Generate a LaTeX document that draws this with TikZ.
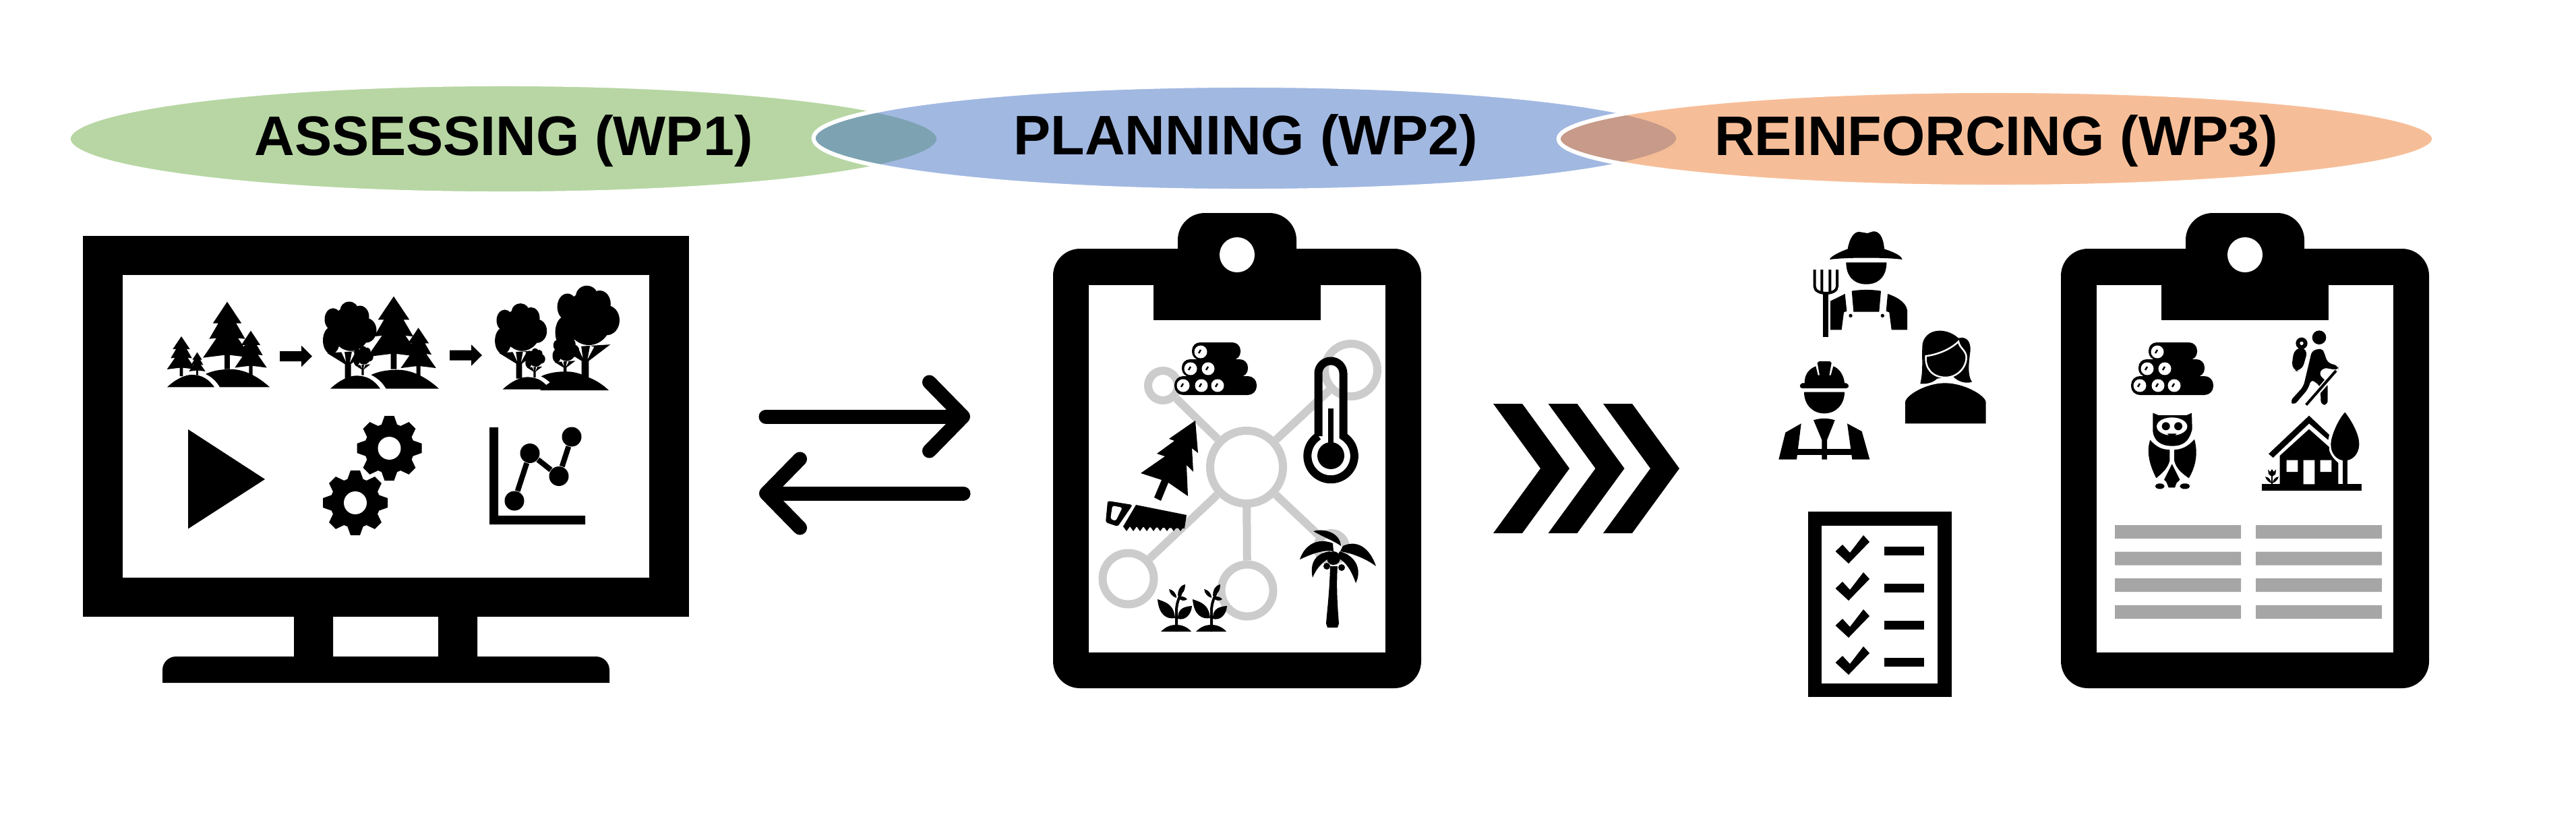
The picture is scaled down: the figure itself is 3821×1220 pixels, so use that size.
\documentclass[tikz,border=0pt]{standalone}
\usepackage{fontspec}
\setmainfont{Liberation Sans}
\usetikzlibrary{arrows.meta,shapes.geometric}
\definecolor{wpgreen}{HTML}{70AD47}
\definecolor{wpblue}{HTML}{4472C4}
\definecolor{wporange}{HTML}{ED7D31}
\definecolor{netgray}{HTML}{CCCCCC}
\definecolor{linegray}{HTML}{A6A6A6}
\begin{document}
\begin{tikzpicture}[x=.01cm,y=-.01cm,wp/.style={ellipse,draw=white,line width=.6mm,fill opacity=.5,text opacity=1,inner sep=0pt,text height=6.55mm,font=\fontsize{23.5pt}{28pt}\selectfont\bfseries},hub/.style={circle,draw=netgray,line width=1.2mm,inner sep=0pt,minimum size=#1},spoke/.style={draw=netgray,line width=1.2mm},dot/.style={circle,fill=black,inner sep=0pt,minimum size=2.9mm},plotline/.style={line width=.8mm},exchange/.style={line width=2.1mm,line cap=round,-{Straight Barb[round,length=5mm,width=10.2mm]}},
conifer/.pic={\fill (0,-100) -- (-16,-68) -- (-10,-68) -- (-20,-45) -- (-12,-46) -- (-27,-17) -- (-3,-21) -- (-3,0) -- (3,0) -- (3,-21) -- (27,-17) -- (12,-46) -- (20,-45) -- (10,-68) -- (16,-68) -- cycle;},
broadleaf/.pic={\fill (-22,-120) ellipse [x radius=12.5,y radius=22] (2,-138) ellipse [x radius=13.5,y radius=17] (18,-125) ellipse [x radius=13.5,y radius=22] (-24.5,-78) ellipse [x radius=12.5,y radius=27] (27,-98) ellipse [x radius=15.5,y radius=24.5] (4.5,-102) ellipse [x radius=29,y radius=45];\fill (-4.5,0) -- (-4.5,-31) -- (-31,-53) -- (31,-58) -- (4.5,-31) -- (4.5,0) -- cycle;\fill[white] (-10,-56) -- (-5,-56) -- (-3,-36) -- cycle (6,-56) -- (11,-54) -- (3,-34) -- cycle;},
hills/.pic={\fill (0,0) .. controls (13,-16.5) and (27,-24.5) .. (36,-24.5) .. controls (53,-24.5) and (62,-14.5) .. (70,0) -- cycle;\fill (57,-26) .. controls (67,-32.5) and (80,-35.5) .. (94,-35.5) .. controls (116,-35.5) and (136,-19.5) .. (152,0) -- (78,0) .. controls (73.5,-10.5) and (67,-19.5) .. (57,-26) -- cycle;},
blockarrow/.pic={\fill (0,-10) -- (32,-10) -- (32,-21) -- (48,0) -- (32,21) -- (32,10) -- (0,10) -- cycle;},
gear/.pic={\fill (0,0) circle [radius=37];\foreach \a in {0,45,...,315}{\fill[rotate=\a] (12,-34) -- (7,-48) -- (-7,-48) -- (-12,-34) -- cycle;}\fill[white] (0,0) circle [radius=17];},
clipboard/.pic={\fill[rounded corners=4mm] (-273,-9) rectangle (273,643);\fill[white] (-220,45) rectangle (220,590);\fill[rounded corners=4mm] (-88,40) -- (-88,-62) -- (88,-62) -- (88,40) -- cycle;\fill (-124,40) rectangle (124,97);\fill[white] (0,0) circle [radius=26];},
logpile/.pic={\fill[rounded corners=1.3mm] (-13,-14) rectangle (109,14);\fill[rounded corners=1.2mm] (-2,-39) rectangle (96,-13);\fill[rounded corners=1.2mm] (13,-64) rectangle (85,-38);\foreach \lx/\ly in {0/0,27/0,51/0,11/-25,37/-25,26/-50}{\fill[white] (\lx,\ly) circle [radius=9.5];\draw[line width=.25mm] (\lx-3,\ly+2) -- (\lx,\ly-3);}},
seedling/.pic={\fill (-23,0) .. controls (-15,-8) and (-8,-10) .. (0,-10) .. controls (8,-10) and (16,-7) .. (22,0) -- cycle;\draw[line width=.4mm] (0,0) -- (0,-30) .. controls (0,-45) and (5,-50) .. (8,-62);\fill (-28,-48) .. controls (-18,-44) and (-4,-42) .. (-2,-20) .. controls (-14,-18) and (-26,-24) .. cycle;\fill (23,-38) .. controls (6,-37) and (2,-30) .. (2,-19) .. controls (12,-16) and (22,-24) .. cycle;\fill (13,-70) .. controls (4,-68) and (2,-60) .. (2,-53) .. controls (10,-55) and (13,-62) .. cycle;\fill (-11,-63) .. controls (-6,-62) and (0,-58) .. (0,-50) .. controls (-6,-52) and (-10,-56) .. cycle;\fill (16,-48) .. controls (10,-54) and (6,-52) .. (2,-51) .. controls (6,-45) and (12,-45) .. cycle;}]
\useasboundingbox (0,0) rectangle (3821,1220);
\node[wp,fill=wpgreen,minimum width=12.9cm,minimum height=1.62cm] (assessing) at (747,206) {ASSESSING (WP1)};
\node[wp,fill=wpblue,minimum width=12.82cm,minimum height=1.56cm] (planning) at (1848,205) {PLANNING (WP2)};
\node[wp,fill=wporange,minimum width=12.98cm,minimum height=1.42cm] (reinforcing) at (2961,206) {REINFORCING (WP3)};
\fill (123,350) rectangle (1022,915);
\fill[white] (182,408) rectangle (963,857);
\fill (436,915) rectangle (494,974) (650,915) rectangle (708,974);
\fill (241,1013) [rounded corners=2mm] -- (241,974) -- (904,974) [sharp corners] -- (904,1013) -- cycle;
\pic[yscale=.747] at (248,574.3) {hills};
\pic[xscale=.79,yscale=.59] at (269,558) {conifer};
\pic[xscale=.45,yscale=.34] at (292.5,556.7) {conifer};
\pic[xscale=1.33] at (337,547.7) {conifer};
\pic[xscale=.88,yscale=.66] at (372,556.7) {conifer};
\pic[yscale=.75] at (415,528.5) {blockarrow};
\pic[xscale=1.06,yscale=.79] at (490,576.7) {hills};
\pic[yscale=.747] at (516,563.3) {broadleaf};
\pic[xscale=.37,yscale=.28] at (538,556.7) {broadleaf};
\pic[xscale=1.45,yscale=1.08] at (584,547.7) {conifer};
\pic[xscale=.97,yscale=.72] at (620.6,558.3) {conifer};
\pic[yscale=.75] at (667,527) {blockarrow};
\pic[yscale=.747] at (745.6,577.7) {hills};
\fill (801,579) .. controls (815,565) and (835,556) .. (852,556) .. controls (870,556) and (888,565) .. (903,579) -- cycle;
\pic[xscale=.97,yscale=.72] at (770,561.7) {broadleaf};
\pic[xscale=1.2,yscale=.9] at (868,563.3) {broadleaf};
\pic[xscale=.37,yscale=.28] at (793,560) {broadleaf};
\pic[xscale=.5,yscale=.37] at (838,556.7) {broadleaf};
\fill (279,637) -- (393,711) -- (279,784.5) -- cycle;
\pic at (577.5,665) {gear};
\pic at (527,746) {gear};
\fill (726,634) -- (739,634) -- (739,765) -- (868,765) -- (868,778) -- (726,778) -- cycle;
\node[dot] (ptA) at (763,743) {};
\node[dot] (ptB) at (786,672.5) {};
\node[dot] (ptC) at (829,706.5) {};
\node[dot] (ptD) at (848,648) {};
\draw[plotline] (ptA) -- (ptB);\draw[plotline] (ptB) -- (ptC);\draw[plotline] (ptC) -- (ptD);
\coordinate (swapAstart) at (1136,618);\coordinate (swapAend) at (1439,618);
\coordinate (swapBstart) at (1429,732);\coordinate (swapBend) at (1126,732);
\draw[exchange] (swapAstart) -- (swapAend);
\draw[exchange] (swapBstart) -- (swapBend);
\pic at (1835,378) {clipboard};
\node[hub=10.8mm] (hub) at (1849,693) {};
\node[hub=4.4mm] (ringNW) at (1725,572) {};
\node[hub=7.8mm] (ringNE) at (2004,549) {};
\node[hub=7.6mm] (ringSW) at (1673.5,858.5) {};
\node[hub=7.7mm] (ringS) at (1850,876) {};
\node[hub=4.2mm] (ringSE) at (1975,812) {};
\draw[spoke] (hub) -- (ringNW);\draw[spoke] (hub) -- (ringNE);\draw[spoke] (hub) -- (ringSW);\draw[spoke] (hub) -- (ringS);\draw[spoke] (hub) -- (ringSE);
\pic at (1755,572) {logpile};
\draw[line width=1.2mm] (1955.5,647) -- (1955.5,554) arc [start angle=180,end angle=360,radius=18.5] -- (1992.5,647) arc [start angle=-58,end angle=238,radius=34.75];
\fill (1974,676) circle [radius=20];\fill (1970,606) rectangle (1978,670);
\fill (1773,624) -- (1734,651) -- (1742,654) -- (1716,673) -- (1728,677) -- (1692,702) -- (1723,712) -- (1712,738) -- (1722,743) -- (1733,716) -- (1762,736) -- (1760,690) -- (1770,700) -- (1768,665) -- (1777,672) -- cycle;
\fill[even odd rule,rounded corners=.3mm] (1643,743) -- (1680,749) -- (1658,781) -- (1640,775) -- cycle (1650,750) -- (1665,753) -- (1655,773) -- (1647,770) -- cycle;
\fill (1685,749) -- (1760,764) -- (1757,784) -- (1666,781) -- cycle;
\foreach \i in {0,1,...,8}{\fill (1666+10*\i,781) -- (1676+10*\i,781) -- (1671+10*\i,788) -- cycle;}
\pic at (1745,937) {seedling};
\pic at (1797,937) {seedling};
\fill (1948,788) .. controls (1967,783) and (1988,792) .. (1989,810) .. controls (1980,803) and (1963,797) .. cycle;
\fill (1928,830) .. controls (1935,808) and (1955,797) .. (1977,806) -- (1978,818) .. controls (1963,815) and (1945,822) .. cycle;
\fill (2041,840) .. controls (2032,813) and (2013,800) .. (1992,810) -- (1988,818) .. controls (2003,820) and (2025,828) .. cycle;
\fill (1947,857) .. controls (1942,835) and (1952,820) .. (1973,818) -- (1977,825) .. controls (1963,832) and (1953,842) .. cycle;
\fill (2011,865) .. controls (2020,847) and (2013,825) .. (1987,818) -- (1983,827) .. controls (1997,833) and (2005,848) .. cycle;
\fill (1978,828) circle [radius=10] (1968,840) circle [radius=5] (1990,842) circle [radius=5];
\fill (1973,840) .. controls (1972,880) and (1968,910) .. (1967,925) -- (1969,931) -- (1984,931) -- (1986,925) .. controls (1984,900) and (1982,870) .. (1984,840) -- cycle;
\foreach \dx in {0,81.5,163}{\fill[shift={(\dx,0)}] (2215,599) -- (2258,599) -- (2328,695) -- (2258,791) -- (2215,791) -- (2285,695) -- cycle;}
\begin{scope}[shift={(2630,330)},scale=1/3]
\fill (252,165) .. controls (255,150) and (300,130) .. (332,118) .. controls (340,70) and (360,40) .. (385,42) -- (420,48) -- (445,40) .. controls (470,38) and (490,60) .. (495,118) .. controls (530,130) and (570,145) .. (575,165) .. controls (510,155) and (320,155) .. cycle;
\fill (325,178) -- (505,178) .. controls (505,240) and (470,275) .. (415,275) .. controls (360,275) and (325,240) .. (325,178) -- cycle;
\fill (350,305) .. controls (390,298) and (440,298) .. (480,305) -- (472,398) -- (358,398) -- cycle;
\fill (255,350) -- (320,318) -- (328,395) -- (315,400) -- (305,478) -- (255,478) -- cycle;
\fill (510,318) .. controls (540,328) and (590,350) .. (597,390) -- (597,478) -- (527,478) -- (517,400) -- (503,395) -- cycle;
\fill (345,415) circle [radius=8] (487,415) circle [radius=8];
\draw[line width=.4mm] (185,210) -- (185,285) .. controls (185,325) and (285,325) .. (285,285) -- (285,210) (217,210) -- (217,310) (253,210) -- (253,310);
\fill (222,310) rectangle (245,510);
\fill (655,718) .. controls (670,650) and (660,600) .. (665,540) .. controls (680,470) and (770,465) .. (825,515) .. controls (860,505) and (880,530) .. (878,570) .. controls (870,630) and (865,680) .. (885,710) .. controls (850,720) and (820,705) .. (800,685) -- (730,695) .. controls (710,715) and (680,720) .. cycle;
\filldraw[draw=white,line width=.25mm] (680,595) .. controls (750,585) and (800,555) .. (825,530) .. controls (830,560) and (860,570) .. (860,600) .. controls (860,650) and (815,690) .. (768,690) .. controls (710,690) and (675,650) .. (680,595) -- cycle;
\fill (588,895) -- (588,800) .. controls (590,770) and (680,715) .. (765,715) .. controls (850,715) and (945,770) .. (947,800) -- (947,895) -- cycle;
\fill (140,715) .. controls (140,670) and (165,650) .. (190,640) -- (200,680) -- (207,680) -- (197,625) -- (205,618) -- (252,618) -- (260,625) -- (250,680) -- (257,680) -- (268,640) .. controls (295,650) and (315,680) .. (318,715) -- (325,715) .. controls (340,720) and (340,738) .. (325,738) -- (130,738) .. controls (116,738) and (116,720) .. (130,715) -- cycle;
\fill (138,755) -- (318,755) .. controls (318,810) and (280,850) .. (228,850) .. controls (175,850) and (138,810) .. (138,755) -- cycle;
\fill (25,1055) -- (55,935) -- (125,895) -- (105,1055) -- cycle;
\fill (330,895) -- (395,930) -- (430,1055) -- (352,1055) -- cycle;
\fill (180,880) .. controls (210,870) and (245,870) .. (275,880) -- (240,968) -- (240,1055) -- (217,1055) -- (217,968) -- cycle;
\fill (105,1008) rectangle (352,1035);
\end{scope}
\fill (2682,759) rectangle (2895,1034);
\fill[white] (2702,780) rectangle (2874,1014);
\foreach \n in {0,1,2,3}{\fill[shift={(0,55*\n)}] (2722.5,818) -- (2733,808) -- (2744,820) -- (2764,794) -- (2773,804) -- (2742,836) -- cycle;\fill[shift={(0,55*\n)}] (2795,811) rectangle (2854,824);}
\pic at (3330,378) {clipboard};
\pic at (3174,572) {logpile};
\begin{scope}[shift={(3150,470)},scale=1/3]
\fill (870,92) circle [radius=31];
\fill[rounded corners=1.2mm] (760,135) -- (822,140) -- (792,245) -- (745,238) -- cycle;
\fill (792,118) circle [radius=26];\fill[white] (792,118) circle [radius=8];
\fill[rounded corners=.6mm] (838,150) -- (885,140) -- (908,205) -- (955,218) -- (955,238) -- (888,226) -- (868,255) -- (908,295) -- (908,392) -- (878,392) -- (875,308) -- (835,278) -- (820,322) -- (758,394) -- (740,376) -- (800,310) -- cycle;
\draw[white,line width=.8mm] (945,240) -- (868,330);
\draw[line width=.4mm] (945,240) -- (812,392);
\fill (130,428) -- (155,438) -- (280,438) -- (303,428) -- (305,500) .. controls (290,560) and (260,575) .. (215,575) .. controls (170,575) and (135,555) .. (130,510) -- cycle;
\fill[white] (215,488) ellipse [x radius=68,y radius=40];
\fill (188,487) circle [radius=18] (243,487) circle [radius=18];
\fill (195,520) -- (235,520) -- (215,548) -- cycle;
\fill (118,548) .. controls (150,585) and (175,590) .. (205,592) -- (205,640) .. controls (195,680) and (165,700) .. (145,718) .. controls (115,660) and (100,600) .. (118,548) -- cycle;
\fill (315,545) .. controls (285,580) and (255,590) .. (225,592) -- (225,640) .. controls (235,680) and (265,700) .. (290,718) .. controls (325,660) and (330,600) .. (315,545) -- cycle;
\fill (215,655) -- (250,725) -- (235,740) -- (228,760) -- (200,760) -- (190,735) -- (180,725) -- cycle;
\fill[rounded corners=.5mm] (140,742) rectangle (182,766) (250,742) rectangle (295,766);
\fill (615,745) rectangle (1060,775);
\fill (695,618) -- (825,500) -- (915,580) .. controls (910,600) and (930,630) .. (955,650) -- (955,745) -- (695,745) -- cycle;
\fill[white] (725,638) rectangle (775,690) (875,638) rectangle (925,690) (800,638) rectangle (850,745);
\fill (645,610) -- (825,440) -- (915,525) -- (910,548) -- (825,475) -- (665,627) -- cycle;
\fill (985,425) .. controls (1020,470) and (1050,530) .. (1048,570) .. controls (1045,620) and (1010,640) .. (985,640) .. controls (950,640) and (920,610) .. (922,565) .. controls (925,520) and (960,450) .. (985,425) -- cycle;
\fill (975,630) rectangle (995,745);
\fill (642,680) -- (652,690) -- (660,678) -- (668,690) -- (678,680) -- (676,700) -- (660,712) -- (645,700) -- cycle;
\fill (656,705) rectangle (664,745);
\fill (630,712) .. controls (645,712) and (655,725) .. (658,740) .. controls (645,738) and (635,725) .. cycle (690,712) .. controls (675,712) and (665,725) .. (662,740) .. controls (675,738) and (685,725) .. cycle;
\end{scope}
\foreach \row in {0,1,2,3}{\fill[linegray,shift={(0,39.6*\row)}] (3137,779) rectangle (3324,799) (3346,779) rectangle (3533,799);}
\end{tikzpicture}
\end{document}
